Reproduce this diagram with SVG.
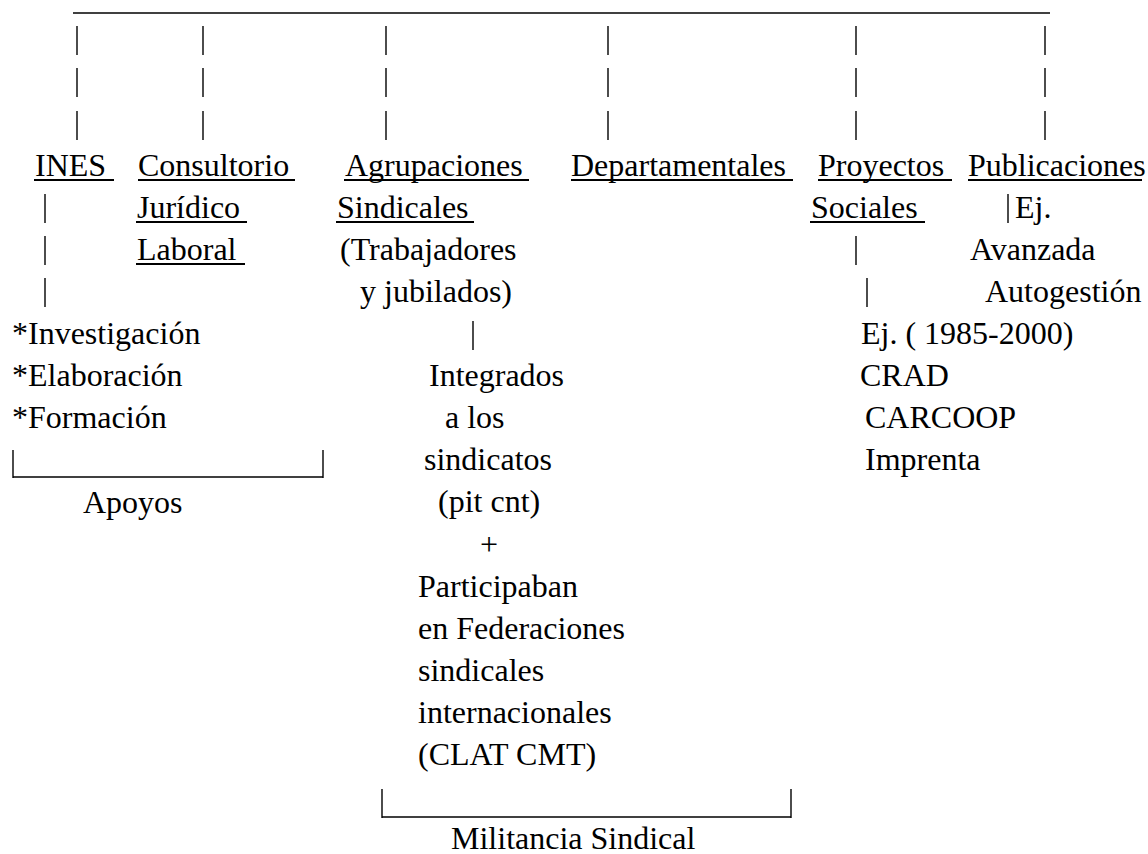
<svg xmlns="http://www.w3.org/2000/svg" width="1148" height="854" viewBox="0 0 1148 854">
<style>
.t text{font-size:32px;fill:#000}
.ul{stroke:#000;stroke-width:2}
.c line{stroke:#000;stroke-width:1.4}
.h{stroke-width:1.6}
</style>
<rect width="1148" height="854" fill="#fff"/>
<g id="connectors" class="c">
<line class="h" x1="73" y1="13" x2="1050" y2="13"/>
<line x1="77" y1="26" x2="77" y2="55"/><line x1="77" y1="68" x2="77" y2="97"/><line x1="77" y1="111" x2="77" y2="140"/>
<line x1="203" y1="26" x2="203" y2="55"/><line x1="203" y1="68" x2="203" y2="97"/><line x1="203" y1="111" x2="203" y2="140"/>
<line x1="386" y1="26" x2="386" y2="55"/><line x1="386" y1="68" x2="386" y2="97"/><line x1="386" y1="111" x2="386" y2="140"/>
<line x1="608" y1="26" x2="608" y2="55"/><line x1="608" y1="68" x2="608" y2="97"/><line x1="608" y1="111" x2="608" y2="140"/>
<line x1="856" y1="26" x2="856" y2="55"/><line x1="856" y1="68" x2="856" y2="97"/><line x1="856" y1="111" x2="856" y2="140"/>
<line x1="1045" y1="26" x2="1045" y2="55"/><line x1="1045" y1="68" x2="1045" y2="97"/><line x1="1045" y1="111" x2="1045" y2="140"/>
<line x1="45" y1="194" x2="45" y2="223"/><line x1="45" y1="236" x2="45" y2="265"/><line x1="45" y1="278" x2="45" y2="307"/>
<line x1="1008" y1="194" x2="1008" y2="223"/>
<line x1="856" y1="236" x2="856" y2="265"/><line x1="867" y1="278" x2="867" y2="307"/>
<line x1="473" y1="321" x2="473" y2="350"/>
<line x1="13" y1="450" x2="13" y2="478"/><line x1="323" y1="450" x2="323" y2="478"/><line class="h" x1="13" y1="477" x2="323" y2="477"/>
<line x1="382" y1="789" x2="382" y2="818"/><line x1="791" y1="789" x2="791" y2="818"/><line class="h" x1="382" y1="817" x2="791" y2="817"/>
</g>
<g class="t" font-family="Liberation Serif, Times New Roman, DejaVu Serif, serif">
<g id="ines">
<text x="35" y="176">INES</text><line class="ul" x1="34" y1="180" x2="114" y2="180"/>
<text x="12" y="344">*Investigación</text>
<text x="12" y="386">*Elaboración</text>
<text x="12" y="428">*Formación</text>
</g>
<g id="apoyos"><text x="83" y="513">Apoyos</text></g>
<g id="consultorio">
<text x="138" y="176">Consultorio</text><line class="ul" x1="138" y1="180" x2="295" y2="180"/>
<text x="137" y="218">Jurídico</text><line class="ul" x1="136" y1="222" x2="247" y2="222"/>
<text x="137" y="260">Laboral</text><line class="ul" x1="136" y1="264" x2="245" y2="264"/>
</g>
<g id="agrupaciones">
<text x="345" y="176">Agrupaciones</text><line class="ul" x1="344" y1="180" x2="529" y2="180"/>
<text x="337" y="218">Sindicales</text><line class="ul" x1="336" y1="222" x2="474" y2="222"/>
<text x="340" y="260">(Trabajadores</text>
<text x="360" y="302">y jubilados)</text>
</g>
<g id="integrados">
<text x="429" y="386">Integrados</text>
<text x="445" y="428">a los</text>
<text x="424" y="470">sindicatos</text>
<text x="438" y="512">(pit cnt)</text>
<text x="480" y="555">+</text>
<text x="418" y="597">Participaban</text>
<text x="418" y="639">en Federaciones</text>
<text x="418" y="681">sindicales</text>
<text x="418" y="723">internacionales</text>
<text x="418" y="765">(CLAT CMT)</text>
</g>
<g id="militancia"><text x="451" y="849">Militancia Sindical</text></g>
<g id="departamentales">
<text x="571" y="176">Departamentales</text><line class="ul" x1="571" y1="180" x2="793" y2="180"/>
</g>
<g id="proyectos">
<text x="818" y="176">Proyectos</text><line class="ul" x1="818" y1="180" x2="952" y2="180"/>
<text x="811" y="218">Sociales</text><line class="ul" x1="810" y1="222" x2="925" y2="222"/>
<text x="861" y="344">Ej. ( 1985-2000)</text>
<text x="860" y="386">CRAD</text>
<text x="865" y="428">CARCOOP</text>
<text x="865" y="470">Imprenta</text>
</g>
<g id="publicaciones">
<text x="968" y="176">Publicaciones</text><line class="ul" x1="968" y1="180" x2="1142" y2="180"/>
<text x="1015" y="218">Ej.</text>
<text x="970" y="260">Avanzada</text>
<text x="985" y="302">Autogestión</text>
</g>
</g>
</svg>
